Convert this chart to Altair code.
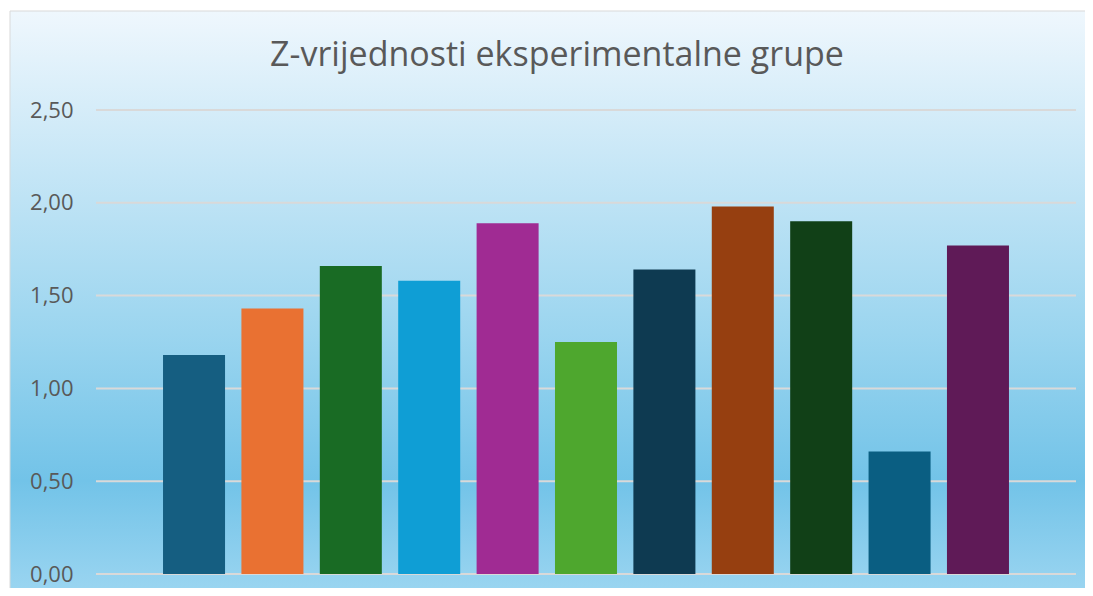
import altair as alt
import pandas as pd

# Data
serije = [f"Serija {i}" for i in range(1, 12)]
z_vrijednosti = [1.18, 1.43, 1.66, 1.58, 1.89, 1.25, 1.64, 1.98, 1.90, 0.66, 1.77]
boje = ["#155E81", "#E97132", "#196B24", "#0F9ED5", "#A02B93", "#4EA72E",
        "#0E3A51", "#963F10", "#114017", "#0A5E82", "#5F1A57"]
oznake_y = [0, 0.5, 1.0, 1.5, 2.0, 2.5]
naslov = "Z-vrijednosti eksperimentalne grupe"

W, H = 980, 464
PAD_L, PAD_T, PAD_R, PAD_B = 88, 102, 9, 14

df = pd.DataFrame({"serija": serije, "z": z_vrijednosti})
grid_df = pd.DataFrame({"v": oznake_y})
one_df = pd.DataFrame({"naslov": [naslov]})

y_scale = alt.Scale(domain=[0, 2.5], nice=False)
y_axis = alt.Axis(values=oznake_y, grid=False, domain=False, ticks=False,
                  labelExpr="replace(format(datum.value, '.2f'), '.', ',')",
                  labelFont="Open Sans", labelFontSize=22, labelColor="#595959",
                  labelPadding=23, title=None, zindex=1)

gradient = alt.LinearGradient(
    gradient="linear", x1=0, x2=0, y1=0, y2=1,
    stops=[
        alt.GradientStop(offset=0.0, color="#EFF7FD"),
        alt.GradientStop(offset=0.32, color="#BEE3F5"),
        alt.GradientStop(offset=0.55, color="#9BD5EF"),
        alt.GradientStop(offset=0.80, color="#72C3E8"),
        alt.GradientStop(offset=1.0, color="#9DD6F1"),
    ],
)

bg = alt.Chart(one_df).mark_rect(fill=gradient, stroke="#D9D9D9", strokeWidth=1).encode(
    x=alt.value(10 - 96),
    x2=alt.value(1093 - 96 + 2),
    y=alt.value(11 - 110),
    y2=alt.value(596 - 110 + 2),
)

grid = alt.Chart(grid_df).mark_rule(color="#D9D9D9", strokeWidth=2).encode(
    y=alt.Y("v:Q", scale=y_scale, axis=y_axis),
    x=alt.value(0),
    x2=alt.value(W),
)

bars = alt.Chart(df).mark_bar().encode(
    x=alt.X("serija:N", sort=serije, axis=None,
            scale=alt.Scale(paddingInner=0.209, paddingOuter=0.855)),
    y=alt.Y("z:Q", scale=y_scale, axis=y_axis),
    color=alt.Color("serija:N", scale=alt.Scale(domain=serije, range=boje), legend=None),
)

title = alt.Chart(one_df).mark_text(
    font="Open Sans", fontSize=34, color="#595959", align="center", baseline="alphabetic"
).encode(
    text="naslov:N",
    x=alt.value(557 - 96),
    y=alt.value(66 - 110),
)

chart = alt.layer(bg, grid, bars, title).properties(
    width=W, height=H,
    autosize=alt.AutoSizeParams(type="none"),
    padding={"left": PAD_L, "top": PAD_T, "right": PAD_R, "bottom": PAD_B},
).configure_view(stroke=None)

chart.save("out.html", embed_options={"renderer": "svg", "actions": False})
